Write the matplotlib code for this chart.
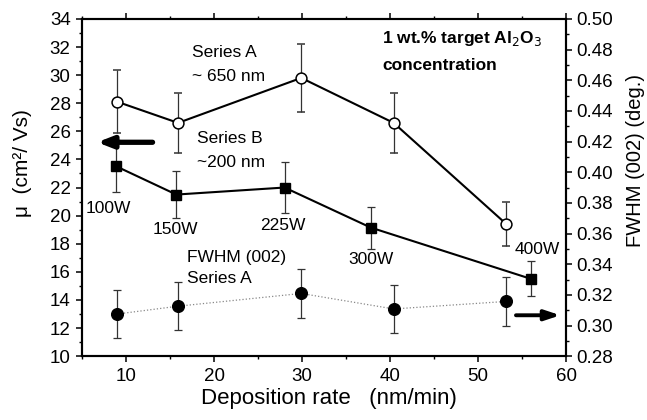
import matplotlib.pyplot as plt
from matplotlib.ticker import MultipleLocator

plt.rcParams['font.family'] = ['Liberation Sans', 'DejaVu Sans']

# Series A (~650 nm), open circles, left axis
rate_a = [9.0, 15.9, 29.9, 40.4, 53.2]
mu_a = [28.1, 26.6, 29.8, 26.6, 19.4]
mu_a_err = [2.25, 2.15, 2.4, 2.15, 1.55]

# Series B (~200 nm), filled squares, left axis
rate_b = [8.9, 15.7, 28.0, 37.8, 56.0]
mu_b = [23.5, 21.5, 22.0, 19.15, 15.5]
mu_b_err = [1.85, 1.7, 1.8, 1.5, 1.25]
power_labels = ["100W", "150W", "225W", "300W", "400W"]

# FWHM (002) of series A, filled circles, right axis
fwhm_a = [0.3075, 0.3126, 0.3209, 0.3108, 0.3157]
fwhm_a_err = [0.0158, 0.0157, 0.0158, 0.0156, 0.0157]

fig = plt.figure(figsize=(6.47, 4.20), dpi=100)
ax = fig.add_axes([0.127, 0.152, 0.748, 0.803])
ax2 = ax.twinx()

err_kw = dict(ecolor='#333333', elinewidth=0.9, capsize=3, capthick=0.9)
ax.errorbar(rate_a, mu_a, yerr=mu_a_err, fmt='o-', color='black', lw=1.5,
            mfc='white', mec='black', mew=1.1, ms=7.8, zorder=3, **err_kw)
ax.errorbar(rate_b, mu_b, yerr=mu_b_err, fmt='s-', color='black', lw=1.5,
            ms=7.5, zorder=3, **err_kw)
ax2.plot(rate_a, fwhm_a, ':', color='#888888', lw=0.9, zorder=2)
ax2.errorbar(rate_a, fwhm_a, yerr=fwhm_a_err, fmt='o', color='black', ms=8.4,
             zorder=3, **err_kw)

ax.set_xlim(5, 60)
ax.set_ylim(10, 34)
ax2.set_ylim(0.28, 0.50)
ax.xaxis.set_major_locator(MultipleLocator(10))
ax.xaxis.set_minor_locator(MultipleLocator(5))
ax.yaxis.set_major_locator(MultipleLocator(2))
ax.yaxis.set_minor_locator(MultipleLocator(1))
ax2.yaxis.set_major_locator(MultipleLocator(0.02))
ax2.yaxis.set_minor_locator(MultipleLocator(0.01))
ax2.yaxis.set_major_formatter(lambda v, _p: f"{v:.2f}")

ax.tick_params(axis='x', which='both', top=True, direction='out')
ax.tick_params(axis='x', labelsize=13.5, pad=4)
ax.tick_params(axis='y', labelsize=13.5, pad=4)
ax2.tick_params(axis='y', labelsize=13.5, pad=3)
for a in (ax, ax2):
    a.tick_params(which='major', length=4.3, width=1.1)
    a.tick_params(which='minor', length=2.5, width=1.0)
    for s in a.spines.values():
        s.set_linewidth(1.5)

ax.set_xlabel("Deposition rate   (nm/min)", fontsize=16)
ax.set_ylabel("μ  (cm²/ Vs)", fontsize=15)
ax2.set_ylabel("FWHM (002) (deg.)", fontsize=14.5)
ax.xaxis.set_label_coords(0.51, -0.095)
ax.yaxis.set_label_coords(-0.103, 0.572)
ax2.yaxis.set_label_coords(1.124, 0.58)

label_offsets = [(-3.55, -2.97), (-2.7, -2.47), (-2.8, -2.69), (-2.6, -2.25), (-1.9, 2.1)]
for x, y, lab, (dx, dy) in zip(rate_b, mu_b, power_labels, label_offsets):
    ax.text(x + dx, y + dy, lab, fontsize=12.5, ha='left', va='center')

ax.text(17.5, 31.63, "Series A", fontsize=12.5, va='center')
ax.text(17.5, 29.92, "~ 650 nm", fontsize=12.5, va='center')
ax.text(18.0, 25.5, "Series B", fontsize=12.5, va='center')
ax.text(18.0, 23.79, "~200 nm", fontsize=12.5, va='center')
ax.text(16.97, 17.04, "FWHM (002)", fontsize=12.5, va='center')
ax.text(16.97, 15.55, "Series A", fontsize=12.5, va='center')
ax.text(39.07, 32.63, "1 wt.% target Al$_2$O$_3$", fontsize=12.5, va='center',
        fontweight='bold')
ax.text(39.07, 30.7, "concentration", fontsize=12.5, va='center', fontweight='bold')

ax.annotate("", xy=(6.7, 25.22), xytext=(13.0, 25.22),
            arrowprops=dict(arrowstyle='-|>,head_length=0.9,head_width=0.35',
                            color='black', lw=3.8, shrinkA=0, shrinkB=0))
ax.annotate("", xy=(59.34, 12.91), xytext=(54.3, 12.91),
            arrowprops=dict(arrowstyle='-|>,head_length=0.9,head_width=0.3',
                            color='black', lw=2.8, shrinkA=0, shrinkB=0))

fig.savefig("out.png", dpi=100)
